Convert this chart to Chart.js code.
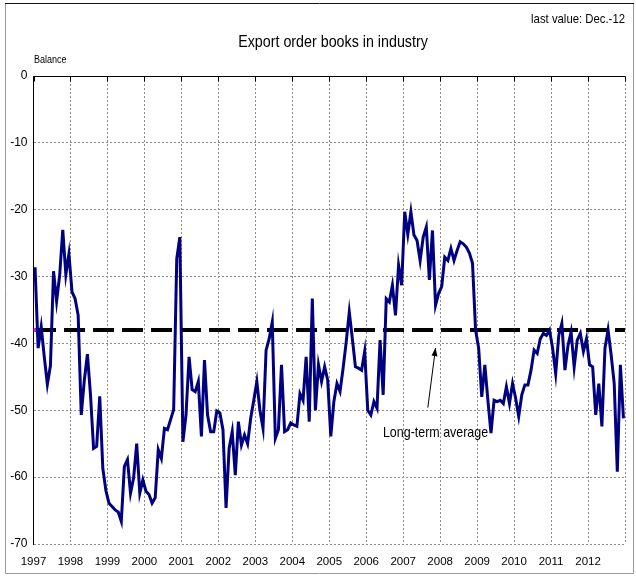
<!DOCTYPE html>
<html>
<head>
<meta charset="utf-8">
<script src="https://cdn.jsdelivr.net/npm/chart.js@4.4.0/dist/chart.umd.min.js"></script>
<style>
html,body{margin:0;padding:0;background:#fff;}
canvas{display:block;}
</style>
</head>
<body>
<canvas id="c" width="636" height="576"></canvas>
<script>
const titleText = 'Export order books in industry';
const lastValueText = 'last value: Dec.-12';
const unitText = 'Balance';
const annotationText = 'Long-term average';
const yearLabels = ['1997','1998','1999','2000','2001','2002','2003','2004','2005','2006','2007','2008','2009','2010','2011','2012'];
const yTicks = [0,-10,-20,-30,-40,-50,-60,-70];
const longTermAverage = -38;
// monthly balance, Jan 1997 .. Dec 2012
const balance1997_2000 = [
  -28.6,-40.7,-37.5,-42,-46.1,-43.3,-29.2,-33.7,-29.8,-23,-29.7,-26.6,
  -32.3,-33.3,-35.8,-50.7,-45.5,-41.6,-47.7,-55.7,-55.4,-47.9,-58.7,-62,
  -63.9,-64.4,-64.9,-65.2,-66.6,-58.4,-57.4,-62.4,-60.1,-55,-62.4,-60.4,
  -62.1,-62.6,-63.9,-63.1,-55.9,-57.2,-52.7,-52.9,-51.4,-49.9,-27.3,-24.1
];
const balance2001_2004 = [
  -54.7,-50.7,-42,-46.9,-47.2,-45.7,-53.9,-42.5,-50.7,-53.2,-53.2,-50.1,
  -50.4,-52.9,-64.6,-55.7,-53.2,-59.7,-51.7,-55.2,-53.7,-55,-51.2,-48.5,
  -45.7,-50,-52.7,-41,-39.3,-36.8,-54.2,-52.9,-43.2,-53.2,-52.9,-51.9,
  -52.2,-52.4,-47.5,-48.5,-42,-51.7,-33.3,-50,-43.2,-45.7,-43.5,-45.5
];
const balance2005_2008 = [
  -53.9,-48.7,-46,-47.2,-43.7,-39.8,-35.3,-39.3,-43.5,-43.7,-44,-41.2,
  -50,-50.7,-48.7,-49.7,-39.5,-47.7,-33.3,-33.8,-31.3,-35.8,-28.3,-31.3,
  -20.3,-23.7,-20.3,-23.8,-24.6,-27.6,-24.1,-22.6,-30.5,-23.1,-34.3,-32.5,
  -31.5,-27.1,-27.6,-25.8,-27.6,-26.1,-24.8,-25.1,-25.6,-26.5,-28,-38
];
const balance2009_2012 = [
  -40.7,-48,-43.2,-48.5,-53.4,-48.5,-48.7,-48.5,-49,-46.5,-49,-46,
  -48.2,-50.9,-47.7,-46.2,-46.2,-44,-41,-41.5,-39.3,-38.5,-38.8,-38,
  -40.7,-44.5,-38.8,-37,-44,-40.3,-38.3,-43.5,-39.5,-38.5,-41.2,-39.3,
  -43.2,-43.5,-50.7,-46,-52.4,-40.7,-38,-41.7,-46,-59.2,-43.2,-51.2
];
const balance = [].concat(balance1997_2000, balance2001_2004, balance2005_2008, balance2009_2012);

const FONT = "'Liberation Sans', Arial, sans-serif";
const MONTHS = 12 * yearLabels.length;

const lineData = balance.map((v, i) => ({x: i + 0.5, y: v}));
const avgData = [{x: 0.5, y: longTermAverage}, {x: MONTHS, y: longTermAverage}];

function narrowText(ctx, text, x, y, size, align, sx) {
  ctx.save();
  ctx.translate(x, y);
  ctx.scale(sx, 1);
  ctx.font = size + 'px ' + FONT;
  ctx.textAlign = align;
  ctx.textBaseline = 'middle';
  ctx.fillStyle = '#000';
  ctx.fillText(text, 0, 0);
  ctx.restore();
}

const decorPlugin = {
  id: 'decor',
  beforeDraw(chart) {
    const ctx = chart.ctx;
    ctx.save();
    ctx.fillStyle = '#fff';
    ctx.fillRect(0, 0, chart.width, chart.height);
    ctx.restore();
  },
  afterDraw(chart) {
    const ctx = chart.ctx;
    const xs = chart.scales.x, ys = chart.scales.y;
    const a = chart.chartArea;
    ctx.save();
    // outer frame
    ctx.lineWidth = 1;
    ctx.strokeStyle = '#9a9a9a';
    ctx.beginPath();
    ctx.moveTo(5.5, 3); ctx.lineTo(5.5, 573.5); ctx.lineTo(633.5, 573.5); ctx.lineTo(633.5, 3);
    ctx.stroke();
    ctx.strokeStyle = '#111';
    ctx.beginPath();
    ctx.moveTo(5, 3.5); ctx.lineTo(634, 3.5);
    ctx.stroke();
    // zero line (category axis) with tick marks
    const y0 = Math.round(ys.getPixelForValue(0)) + 0.5;
    ctx.strokeStyle = '#000';
    ctx.beginPath();
    ctx.moveTo(a.left, y0); ctx.lineTo(a.right, y0);
    ctx.stroke();
    for (let k = 0; k <= yearLabels.length; k++) {
      const px = Math.round(xs.getPixelForValue(k * 12)) + 0.5;
      ctx.beginPath();
      ctx.moveTo(px, y0); ctx.lineTo(px, y0 + 5);
      ctx.stroke();
    }
    ctx.restore();
    // texts
    narrowText(ctx, lastValueText, 625, 19, 13.5, 'right', 0.84);
    narrowText(ctx, titleText, 333, 42, 17, 'center', 0.84);
    narrowText(ctx, unitText, 34, 60, 11, 'left', 0.82);
    // annotation arrow
    const tipX = xs.getPixelForValue(130.5), tipY = ys.getPixelForValue(longTermAverage) + 18;
    const baseX = xs.getPixelForValue(128), baseY = ys.getPixelForValue(-49.6);
    ctx.save();
    ctx.strokeStyle = '#000';
    ctx.fillStyle = '#000';
    ctx.lineWidth = 1;
    ctx.beginPath();
    ctx.moveTo(baseX, baseY); ctx.lineTo(tipX, tipY);
    ctx.stroke();
    const ang = Math.atan2(tipY - baseY, tipX - baseX);
    const L = 8, W = 3;
    ctx.beginPath();
    ctx.moveTo(tipX, tipY);
    ctx.lineTo(tipX - L * Math.cos(ang) + W * Math.sin(ang), tipY - L * Math.sin(ang) - W * Math.cos(ang));
    ctx.lineTo(tipX - L * Math.cos(ang) - W * Math.sin(ang), tipY - L * Math.sin(ang) + W * Math.cos(ang));
    ctx.closePath();
    ctx.fill();
    ctx.restore();
    narrowText(ctx, annotationText, xs.getPixelForValue(130.5), ys.getPixelForValue(-53.4), 15, 'center', 0.83);
  }
};

new Chart(document.getElementById('c'), {
  type: 'line',
  data: {
    datasets: [
      {
        label: 'Balance',
        data: lineData,
        borderColor: '#000080',
        borderWidth: 3,
        pointRadius: 0,
        tension: 0,
        fill: false,
        order: 0
      },
      {
        label: annotationText,
        data: avgData,
        borderColor: '#000',
        borderWidth: 4,
        borderDash: [21, 8],
        pointRadius: [2.5, 0],
        pointStyle: 'rect',
        pointBackgroundColor: '#ff00ff',
        pointBorderColor: '#ff00ff',
        pointBorderWidth: 0,
        tension: 0,
        fill: false,
        order: 1
      }
    ]
  },
  options: {
    responsive: false,
    animation: false,
    events: [],
    layout: {padding: {left: 0, right: 9, top: 76, bottom: 0}},
    plugins: {legend: {display: false}, tooltip: {enabled: false}, title: {display: false}},
    scales: {
      x: {
        type: 'linear',
        min: 0,
        max: MONTHS,
        afterFit(scale) { scale.height = 32; },
        afterBuildTicks(scale) {
          scale.ticks = [];
          for (let k = 0; k <= yearLabels.length; k++) scale.ticks.push({value: k * 12});
        },
        ticks: {
          autoSkip: false,
          maxRotation: 0,
          padding: 11,
          color: '#000',
          font: {family: FONT, size: 11.5},
          callback: (v) => yearLabels[v / 12] || ''
        },
        grid: {color: '#8c8c8c', lineWidth: 1, drawTicks: false},
        border: {display: false, dash: [2, 2]}
      },
      y: {
        min: -70,
        max: 0,
        afterFit(scale) { scale.width = 33.5; },
        afterBuildTicks(scale) { scale.ticks = yTicks.map(v => ({value: v})); },
        ticks: {
          padding: 6,
          color: '#000',
          font: {family: FONT, size: 12},
          callback: (v) => String(v)
        },
        grid: {color: (c) => c.tick && c.tick.value === 0 ? 'rgba(0,0,0,0)' : '#8c8c8c', lineWidth: 1, drawTicks: false},
        border: {display: true, color: '#000', width: 1, dash: [2, 2]}
      }
    }
  },
  plugins: [decorPlugin]
});
</script>
</body>
</html>
